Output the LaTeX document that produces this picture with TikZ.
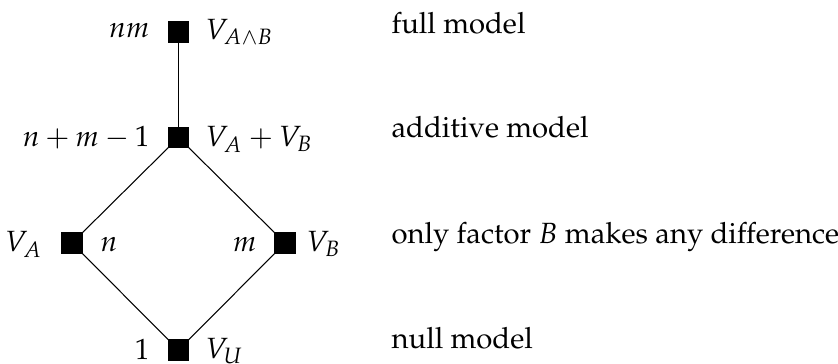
\documentclass[tikz,border=0pt]{standalone}
\usepackage[T1]{fontenc}
\usepackage{mathpazo}
\begin{document}
\begin{tikzpicture}[x=0.3333pt,y=-0.3333pt,
  sq/.style={draw=black,fill=black,minimum size=20*0.3333pt,inner sep=0pt,outer sep=0pt},
  lab/.style={inner sep=0pt,font=\fontsize{9.75}{12}\selectfont},
  edge/.style={draw=black,line width=0.35pt}]
\useasboundingbox (0,0) rectangle (838,363);
\node[sq] (full) at (178.5,32) {};
\node[sq] (add) at (178.5,137.5) {};
\node[sq] (a) at (72,243) {};
\node[sq] (b) at (285,243) {};
\node[sq] (null) at (178.5,350) {};
\draw[edge] (full) -- (add);
\draw[edge] (add) -- (a);
\draw[edge] (add) -- (b);
\draw[edge] (a) -- (null);
\draw[edge] (b) -- (null);
% left labels
\node[lab,anchor=base east] (lfull) at (150,37.5) {$nm$};
\node[lab,anchor=base east] (ladd) at (150,146.5) {$n+m-1$};
\node[lab,anchor=base east] (la) at (43,251.5) {$V_A$};
\node[lab,anchor=base east] (lnull) at (150,359.5) {$1$};
% right labels
\node[lab,anchor=base west] (rfull) at (205,39) {$V_{A\wedge B}$};
\node[lab,anchor=base west] (radd) at (205,146.5) {$V_A+V_B$};
\node[lab,anchor=base west] (ra) at (100,251.5) {$n$};
\node[lab,anchor=base east] (rb) at (257,251.5) {$m$};
\node[lab,anchor=base west] (rbv) at (306,251.5) {$V_B$};
\node[lab,anchor=base west] (rnull) at (205,358.5) {$V_U$};
% descriptions
\node[lab,anchor=base west] (dfull) at (391,33) {full model};
\node[lab,anchor=base west] (dadd) at (391,137) {additive model};
\node[lab,anchor=base west] (dab) at (391,243) {only factor $B$ makes any difference};
\node[lab,anchor=base west] (dnull) at (391,348) {null model};
\end{tikzpicture}
\end{document}
